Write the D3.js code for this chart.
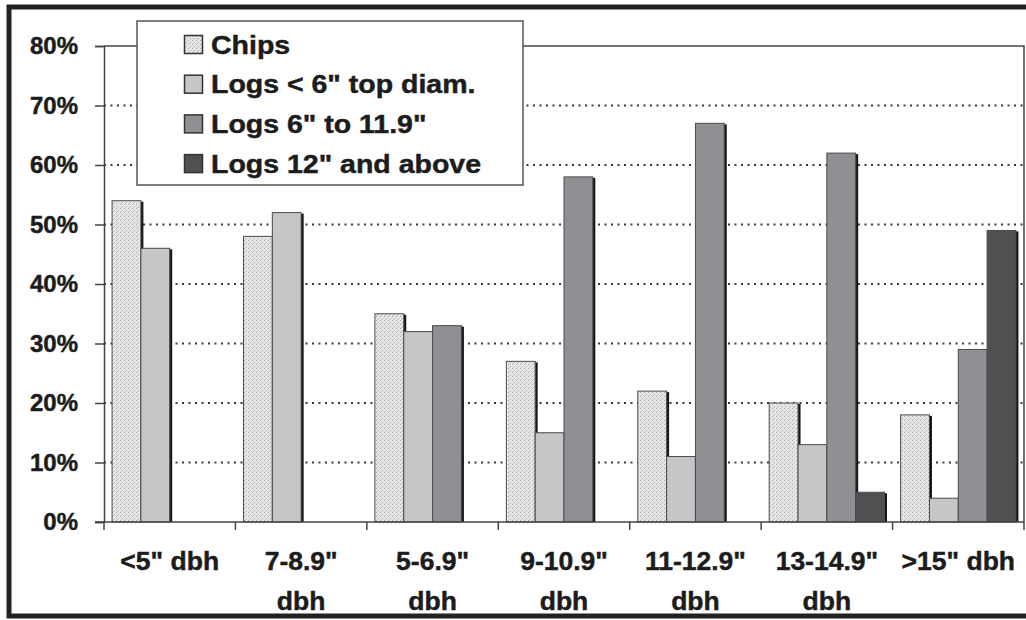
<!DOCTYPE html>
<head>
<meta charset="utf-8">
<title>Product share by dbh class</title>
<style>
  body { margin: 0; background: #fff; }
  text { font-family: "Liberation Sans", Arial, sans-serif; font-weight: bold; fill: #1c1c1c;
         stroke: #1c1c1c; stroke-width: 0.45; }
</style>
</head>
<body>
<svg width="1026" height="620"></svg>
<script src="https://d3js.org/d3.v7.min.js"></script>
<script>

// data
var categories = [["<5\" dbh"], ["7-8.9\"", "dbh"], ["5-6.9\"", "dbh"], ["9-10.9\"", "dbh"],
                  ["11-12.9\"", "dbh"], ["13-14.9\"", "dbh"], [">15\" dbh"]];
var seriesNames = ["Chips", "Logs < 6\" top diam.", "Logs 6\" to 11.9\"", "Logs 12\" and above"];
var chips   = [54, 48, 35, 27, 22, 20, 18];
var logsLt6 = [46, 52, 32, 15, 11, 13, 4];
var logs6   = [0, 0, 33, 58, 67, 62, 29];
var logs12  = [0, 0, 0, 0, 0, 5, 49];
var yTicks  = [0, 10, 20, 30, 40, 50, 60, 70, 80];

var values = [chips, logsLt6, logs6, logs12];
var fills = ["url(#chipsPat)", "#c6c6c8", "#8f9093", "#505053"];

var svg = d3.select("svg");
var pLeft = 104, pRight = 1024, pTop = 46, pBottom = 522;

// pattern for chips (speckled light grey)
var defs = svg.append("defs");
var pat = defs.append("pattern").attr("id", "chipsPat")
    .attr("width", 4).attr("height", 4).attr("patternUnits", "userSpaceOnUse");
pat.append("rect").attr("width", 4).attr("height", 4).attr("fill", "#e6e6e6");
pat.append("rect").attr("x", 0).attr("y", 0).attr("width", 1).attr("height", 1).attr("fill", "#a8a8a8");
pat.append("rect").attr("x", 2).attr("y", 2).attr("width", 1).attr("height", 1).attr("fill", "#b4b4b4");
pat.append("rect").attr("x", 1).attr("y", 3).attr("width", 1).attr("height", 1).attr("fill", "#c4c4c4");

// outer frame
svg.append("rect").attr("x", 9).attr("y", 7).attr("width", 1040).attr("height", 609)
    .attr("fill", "none").attr("stroke", "#222").attr("stroke-width", 5);

// scales
var x = d3.scaleBand().domain(d3.range(categories.length)).range([pLeft, pRight]);
var xs = d3.scaleBand().domain(d3.range(seriesNames.length)).range([0, x.bandwidth()]).paddingOuter(0.28);
var y = d3.scaleLinear().domain([0, 80]).range([pBottom, pTop]);

// gridlines
svg.append("g").selectAll("line").data(yTicks.filter(d => d > 0 && d < 80)).enter().append("line")
    .attr("x1", pLeft).attr("x2", pRight)
    .attr("y1", d => y(d)).attr("y2", d => y(d))
    .attr("stroke", "#3a3a3a").attr("stroke-width", 2).attr("stroke-dasharray", "2,4.5");

// plot border top/right
svg.append("path").attr("d", "M" + pLeft + "," + pTop + "H" + pRight + "V" + pBottom)
    .attr("fill", "none").attr("stroke", "#444").attr("stroke-width", 1.5);

// bars
var bars = [];
values.forEach((s, i) => s.forEach((v, j) => { if (v > 0) bars.push({s: i, c: j, v: v}); }));

var g = svg.append("g");
bars.forEach(d => {
    var bx = x(d.c) + xs(d.s), bw = xs.bandwidth();
    g.append("rect").attr("x", bx + 2.5).attr("y", y(d.v) + 1)
        .attr("width", bw).attr("height", pBottom - y(d.v) - 1).attr("fill", "#161616");
});
bars.forEach(d => {
    var bx = x(d.c) + xs(d.s), bw = xs.bandwidth();
    g.append("rect").attr("x", bx).attr("y", y(d.v))
        .attr("width", bw).attr("height", pBottom - y(d.v))
        .attr("fill", fills[d.s]).attr("stroke", "#4a4a4a").attr("stroke-width", 1);
});

// y axis
var yAxis = svg.append("g").attr("transform", "translate(" + pLeft + ",0)")
    .call(d3.axisLeft(y).tickValues(yTicks).tickSize(9).tickPadding(17).tickFormat(d => d + "%"));
yAxis.select(".domain").attr("stroke", "#444").attr("stroke-width", 1.5);
yAxis.selectAll(".tick line").attr("stroke", "#444").attr("stroke-width", 1.5);
yAxis.selectAll("text").attr("font-size", 24).attr("fill", "#1c1c1c").attr("font-family", null);

// x axis
svg.append("line").attr("x1", pLeft - 9).attr("x2", pRight).attr("y1", pBottom).attr("y2", pBottom)
    .attr("stroke", "#444").attr("stroke-width", 1.5);
svg.append("g").selectAll("line").data(d3.range(categories.length + 1)).enter().append("line")
    .attr("x1", d => pLeft + d * x.step()).attr("x2", d => pLeft + d * x.step())
    .attr("y1", pBottom).attr("y2", pBottom + 8)
    .attr("stroke", "#444").attr("stroke-width", 1.5);

var xl = svg.append("g").selectAll("text").data(categories).enter().append("text")
    .attr("text-anchor", "middle").attr("font-size", 26.5)
    .attr("transform", (d, i) => "translate(" + (x(i) + x.bandwidth() / 2) + ",0)");
xl.selectAll("tspan").data(d => d).enter().append("tspan")
    .attr("x", 0).attr("y", (d, i) => 570 + i * 40).text(d => d);

// legend
var lg = svg.append("g");
lg.append("rect").attr("x", 137).attr("y", 21).attr("width", 386).attr("height", 164)
    .attr("fill", "#fff").attr("stroke", "#555").attr("stroke-width", 1.5);
seriesNames.forEach((name, i) => {
    var cy = 44.5 + i * 39.7;
    lg.append("rect").attr("x", 184.5).attr("y", cy - 9).attr("width", 18).attr("height", 18)
        .attr("fill", fills[i]).attr("stroke", "#333").attr("stroke-width", 1.5);
    lg.append("text").attr("transform", "translate(211," + (cy + 9) + ") scale(1.14,1)")
        .attr("font-size", 25).text(name);
});

</script>
</body>
